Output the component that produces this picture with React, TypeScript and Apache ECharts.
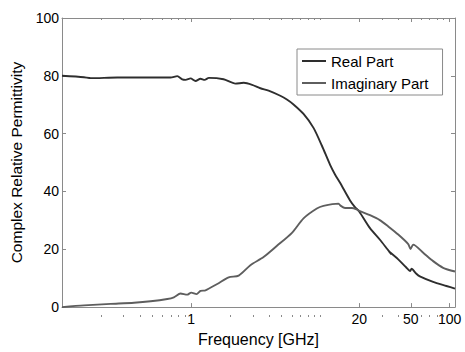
import React, { useEffect, useRef } from "react";
import * as echarts from "echarts";

// Frequency [GHz] and values
const freqReal = [
  0.1, 0.148, 0.167, 0.268, 0.485, 0.692, 0.78, 0.852, 0.904, 0.988, 1.08, 1.18, 1.27, 1.37,
  1.78, 2.2, 2.55, 2.96, 3.43, 3.97, 4.89, 5.5, 6.19, 7.4, 8.84, 10.25, 11.88, 13.0, 14.19, 16.95,
  18.5, 20.0, 24.18, 28.88, 33.0, 35.5, 34.0, 40.0, 46.0, 49.5, 50.7, 55.0, 58.8, 74.5, 94.4, 110,
];
const realPart = [
  80.0, 79.5, 79.2, 79.4, 79.4, 79.4, 79.9, 78.8, 78.6, 79.1, 78.2, 79.0, 78.6, 79.3,
  78.8, 77.3, 77.6, 76.9, 75.7, 74.9, 73.1, 71.8, 70.1, 66.8, 62.0, 55.9, 49.2, 45.8, 43.0, 36.9,
  34.6, 33.0, 27.3, 23.3, 20.0, 18.2, 19.2, 16.5, 13.8, 12.5, 13.3, 11.6, 10.6, 8.7, 7.3, 6.4,
];
const freqImag = [
  0.1, 0.148, 0.238, 0.361, 0.485, 0.653, 0.734, 0.827, 0.931, 1.0, 1.1, 1.18, 1.29, 1.59,
  1.95, 2.33, 2.87, 3.63, 4.61, 6.02, 7.4, 9.38, 10.55, 13.8, 14.3, 15.5, 17.5, 19.1, 20.0,
  24.2, 28.8, 33.49, 40.0, 47.8, 49.8, 52.2, 62.4, 74.5, 89.0, 110,
];
const imagPart = [
  0.0, 0.6, 1.1, 1.5, 2.0, 2.8, 3.4, 4.7, 4.3, 5.0, 4.5, 5.6, 5.8, 8.0,
  10.3, 10.9, 14.5, 17.3, 21.2, 25.7, 30.7, 34.1, 35.0, 35.8, 35.1, 34.3, 34.3, 33.8, 33.3,
  31.8, 30.1, 27.9, 25.1, 21.8, 20.1, 21.6, 18.8, 15.9, 13.6, 12.3,
];
const xMajorTicks = [1, 20, 50, 100];
const xMinorTicks = [
  0.2, 0.3, 0.4, 0.5, 0.6, 0.7, 0.8, 0.9, 2, 3, 4, 5, 6, 7, 8, 9, 10, 30, 40, 60, 70, 80, 90,
];
const seriesNames = ["Real Part", "Imaginary Part"];

const FONT = "'Liberation Sans', Arial, Helvetica, sans-serif";
const AXIS_GRAY = "#8a8a8a";
const X_MIN = 0.1;
const X_MAX = 110;

export default function App() {
  const ref = useRef<HTMLDivElement>(null);

  useEffect(() => {
    if (!ref.current) return;
    const chart = echarts.init(ref.current, null, { renderer: "svg" });

    const gridRect = { left: 62, right: 10, top: 18, bottom: 35 };
    const logAxisBase = (gridIndex: number, position: "top" | "bottom") => ({
      type: "log" as const,
      gridIndex,
      position,
      min: X_MIN,
      max: X_MAX,
      logBase: 10,
      splitLine: { show: false },
      axisLine: { onZero: false, show: true, lineStyle: { color: AXIS_GRAY, width: 1 } },
    });

    const option: any = {
      animation: false,
      backgroundColor: "#ffffff",
      textStyle: { fontFamily: FONT },
      grid: [{ ...gridRect }, { ...gridRect }],
      legend: {
        data: seriesNames,
        orient: "vertical",
        left: 297,
        top: 49,
        padding: [3, 14, 3, 5],
        itemGap: 4,
        itemWidth: 24,
        itemHeight: 2,
        icon: "rect",
        borderColor: AXIS_GRAY,
        borderWidth: 1,
        backgroundColor: "#ffffff",
        textStyle: { fontSize: 15, lineHeight: 18, color: "#000", fontFamily: FONT },
      },
      xAxis: [
        {
          ...logAxisBase(0, "bottom"),
          name: "Frequency [GHz]",
          nameLocation: "middle",
          nameGap: 18,
          nameTextStyle: { fontSize: 16, color: "#000", fontFamily: FONT },
          axisTick: {
            show: true,
            inside: true,
            length: 4,
            customValues: xMajorTicks,
            lineStyle: { color: AXIS_GRAY },
          },
          axisLabel: {
            show: true,
            customValues: xMajorTicks,
            formatter: (v: number) => String(+Number(v).toPrecision(3)),
            fontSize: 14,
            color: "#000",
            margin: 5,
            fontFamily: FONT,
          },
        },
        {
          ...logAxisBase(0, "top"),
          axisTick: {
            show: true,
            inside: true,
            length: 4,
            customValues: xMajorTicks,
            lineStyle: { color: AXIS_GRAY },
          },
          axisLabel: { show: false },
        },
        {
          ...logAxisBase(1, "bottom"),
          axisLine: { show: false, onZero: false },
          axisTick: {
            show: true,
            inside: true,
            length: 2,
            customValues: xMinorTicks,
            lineStyle: { color: AXIS_GRAY },
          },
          axisLabel: { show: false },
        },
        {
          ...logAxisBase(1, "top"),
          axisLine: { show: false, onZero: false },
          axisTick: {
            show: true,
            inside: true,
            length: 2,
            customValues: xMinorTicks,
            lineStyle: { color: AXIS_GRAY },
          },
          axisLabel: { show: false },
        },
      ],
      yAxis: [
        {
          type: "value",
          gridIndex: 0,
          position: "left",
          min: 0,
          max: 100,
          interval: 20,
          name: "Complex Relative Permittivity",
          nameLocation: "middle",
          nameGap: 35,
          nameTextStyle: { fontSize: 15.5, color: "#000", fontFamily: FONT },
          splitLine: { show: false },
          axisLine: { show: true, onZero: false, lineStyle: { color: AXIS_GRAY, width: 1 } },
          axisTick: { show: true, inside: true, length: 4, lineStyle: { color: AXIS_GRAY } },
          axisLabel: { fontSize: 14, color: "#000", margin: 3, fontFamily: FONT },
        },
        {
          type: "value",
          gridIndex: 0,
          position: "right",
          min: 0,
          max: 100,
          interval: 20,
          splitLine: { show: false },
          axisLine: { show: true, onZero: false, lineStyle: { color: AXIS_GRAY, width: 1 } },
          axisTick: { show: true, inside: true, length: 4, lineStyle: { color: AXIS_GRAY } },
          axisLabel: { show: false },
        },
        {
          type: "value",
          gridIndex: 1,
          min: 0,
          max: 100,
          show: false,
        },
      ],
      series: [
        {
          name: seriesNames[0],
          type: "line",
          xAxisIndex: 0,
          yAxisIndex: 0,
          symbol: "none",
          smooth: 0.25,
          lineStyle: { color: "#2e2e2e", width: 1.9 },
          itemStyle: { color: "#2e2e2e" },
          data: freqReal.map((f, i) => [f, realPart[i]]),
        },
        {
          name: seriesNames[1],
          type: "line",
          xAxisIndex: 0,
          yAxisIndex: 0,
          symbol: "none",
          smooth: 0.25,
          lineStyle: { color: "#5e5e5e", width: 1.9 },
          itemStyle: { color: "#5e5e5e" },
          data: freqImag.map((f, i) => [f, imagPart[i]]),
        },
      ],
    };

    chart.setOption(option);
    return () => chart.dispose();
  }, []);

  return (
    <div
      ref={ref}
      style={{ position: "fixed", left: 0, top: 0, width: 465, height: 352 }}
    />
  );
}
